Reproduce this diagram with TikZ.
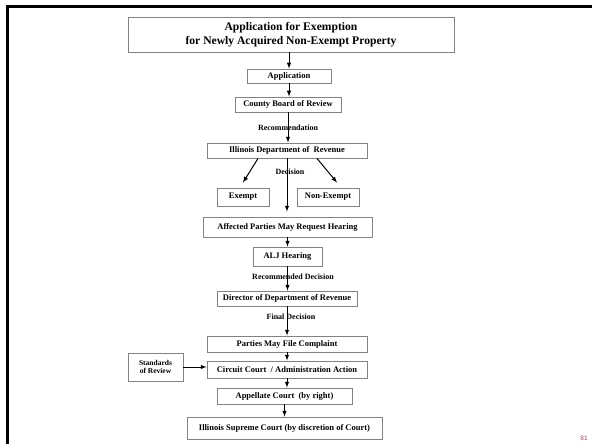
\documentclass[tikz,border=0pt]{standalone}
\usepackage{fontspec}
\setmainfont{Liberation Serif}
\newfontfamily\pagefont{Liberation Sans}
\usepackage{tikz}
\definecolor{boxgray}{RGB}{130,130,130}
\definecolor{pagemauve}{RGB}{150,70,110}

\begin{document}
\begin{tikzpicture}[x=1pt,y=-1pt,
  bx/.style={draw=boxgray, line width=0.9pt, inner sep=0pt, align=center,
    font=\bfseries\fontsize{8.5}{10}\selectfont},
  lbl/.style={inner sep=0pt, font=\bfseries\fontsize{8}{9}\selectfont},
  arr/.style={line width=1pt, ->, >=latex}]
\useasboundingbox (0,0) rectangle (592,444);
% slide frame
\draw [line width=3pt] (7,444)--(7,7)--(592,7);
\node [inner sep=0pt, text=pagemauve, font=\pagefont\fontsize{6.5}{7}\selectfont] (pg) at (584,438) {81};
% boxes
\node [bx, minimum width=326, minimum height=35, font=\bfseries\fontsize{11.6}{14}\selectfont] (title) at (291,34.5)
  {Application for Exemption\\for Newly Acquired Non-Exempt Property};
\node [bx, minimum width=84, minimum height=14] (app) at (289,76) {Application};
\node [bx, minimum width=106, minimum height=15] (county) at (288,104.5) {County Board of Review};
\node [bx, minimum width=160, minimum height=15] (idr) at (287,150.5) {Illinois Department of \ Revenue};
\node [bx, minimum width=52, minimum height=18] (exempt) at (243,197) {Exempt};
\node [bx, minimum width=62, minimum height=18] (nonex) at (328,197) {Non-Exempt};
\node [bx, minimum width=169, minimum height=20] (affected) at (287.5,227) {Affected Parties May Request Hearing};
\node [bx, minimum width=69, minimum height=19] (alj) at (287.5,256.5) {ALJ Hearing};
\node [bx, minimum width=140, minimum height=15] (director) at (287,298.5) {Director of Department of Revenue};
\node [bx, minimum width=160, minimum height=16] (parties) at (287,344) {Parties May File Complaint};
\node [bx, minimum width=160, minimum height=17] (circuit) at (287,369.5) {Circuit Court \ / Administration Action};
\node [bx, minimum width=55, minimum height=28, font=\bfseries\fontsize{7.5}{8.5}\selectfont] (standards) at (155.5,367) {Standards\\of Review};
\node [bx, minimum width=135, minimum height=16] (appellate) at (284.5,396) {Appellate Court \ (by right)};
\node [bx, minimum width=195, minimum height=22] (supreme) at (284.5,428) {Illinois Supreme Court (by discretion of Court)};
% arrows
\draw [arr] (app.north |- title.south) -- (app.north);
\draw [arr] (app.south) -- (app.south |- county.north);
\draw [arr] (county.south) -- (county.south |- idr.north);
\draw [arr] ([xshift=-29pt]idr.south) -- ([yshift=5pt]exempt.north);
\draw [arr] ([xshift=30pt]idr.south) -- ([xshift=9pt,yshift=5pt]nonex.north);
\draw [arr] (idr.south) -- ([yshift=5pt]idr.south |- affected.north);
\draw [arr] (affected.south) -- (affected.south |- alj.north);
\draw [arr] (alj.south) -- (alj.south |- director.north);
\draw [arr] (director.south) -- (director.south |- parties.north);
\draw [arr] (parties.south) -- (parties.south |- circuit.north);
\draw [arr] (standards.east) -- (standards.east -| circuit.west);
\draw [arr] (circuit.south) -- (circuit.south |- appellate.north);
\draw [arr] (appellate.south) -- (appellate.south |- supreme.north);
% labels on the connectors
\node [lbl] (rec) at (288,128) {Recommendation};
\node [lbl] (dec) at (290,172) {Decision};
\node [lbl] (recdec) at (293,277) {Recommended Decision};
\node [lbl] (findec) at (291,317) {Final Decision};
\end{tikzpicture}
\end{document}
